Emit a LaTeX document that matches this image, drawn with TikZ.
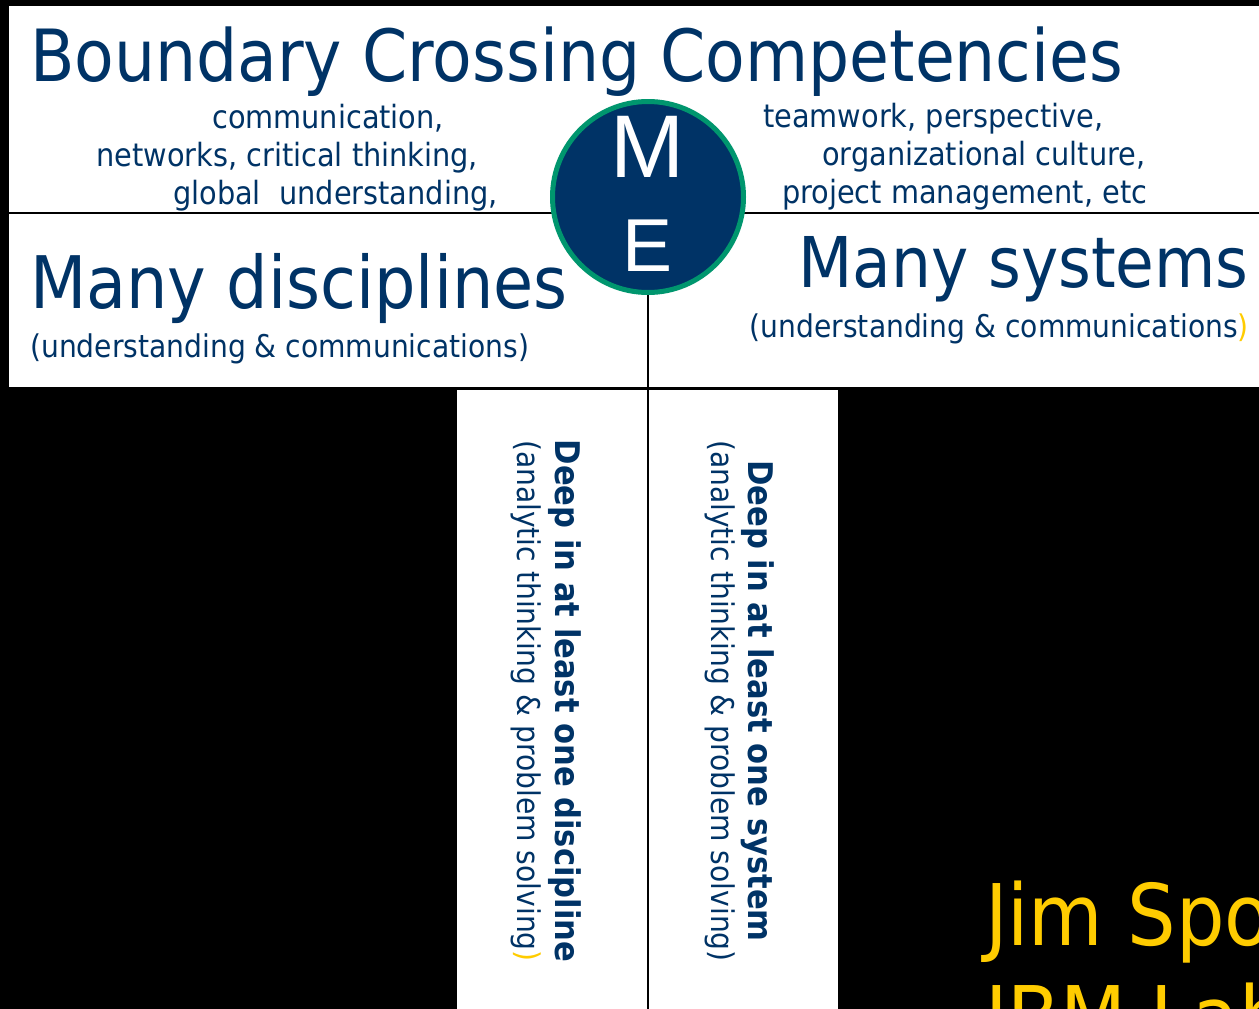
\documentclass[tikz,border=0pt]{standalone}
\usepackage{fontspec}
\setmainfont{DejaVu Sans Condensed}
\newfontfamily\arialfont{Liberation Sans}
\definecolor{navy}{RGB}{0,51,102}
\definecolor{megreen}{RGB}{0,150,110}
\definecolor{gold}{RGB}{255,204,0}
\begin{document}
\begin{tikzpicture}[x=1pt, y=-1pt,
    txt/.style = {text=navy, inner sep=0pt},
    big/.style = {txt, font=\fontsize{71}{71}\selectfont},
    small/.style = {txt, font=\fontsize{31.3}{31}\selectfont},
    list/.style = {txt, anchor=base west, font=\fontsize{32}{32}\selectfont},
    vbold/.style = {txt, font=\bfseries\fontsize{34}{34}\selectfont},
    rule/.style = {line width=2pt}]
    \fill[black] (0,0) rectangle (1259,1009);
    \useasboundingbox (0,0) rectangle (1259,1009);
    \clip (0,0) rectangle (1259,1009);
    \fill[white] (9,6) rectangle (1259,387);
    \fill[white] (457,390) rectangle (838,1009);
    \coordinate (lft) at (9,213);
    \coordinate (rgt) at (1259,213);
    \coordinate (bot) at (648,1009);
    \draw[rule] (lft) -- (rgt);
    \node[circle, fill=navy, draw=megreen, line width=5pt, minimum size=191pt] (me) at (648,197) {};
    \draw[rule] (me.south) -- (bot);
    \node[text=white, inner sep=0pt, font=\arialfont\fontsize{89}{89}\selectfont] (m) at (648,147) {M};
    \node[text=white, inner sep=0pt, font=\arialfont\fontsize{75}{75}\selectfont] (e) at (648,246) {E};
    \node[txt, anchor=base west, font=\fontsize{72}{72}\selectfont] (title) at (30,81) {Boundary Crossing Competencies};
    \node[list] (l1) at (212,128) {communication,};
    \node[list] (l2) at (96,166) {networks, critical thinking,};
    \node[list] (l3) at (173,204) {global\ \ understanding,};
    \node[list] (r1) at (763,127) {teamwork, perspective,};
    \node[list] (r2) at (822,165) {organizational culture,};
    \node[list] (r3) at (782,203) {project management, etc};
    \node[big, anchor=base west, font=\fontsize{72.5}{72}\selectfont] (disc) at (30,308) {Many disciplines};
    \node[small, anchor=base west] (discsub) at (30,357) {(understanding \& communications)};
    \node[big, anchor=base east, font=\fontsize{70}{70}\selectfont] (sys) at (1249,287) {Many systems};
    \node[small, anchor=base east] (syssub) at (1249,337) {(understanding \& communications\textcolor{gold}{)}};
    \node[vbold, rotate=-90, anchor=base] (deepd) at (555,701) {Deep in at least one discipline};
    \node[small, rotate=-90, anchor=base] (anad) at (517,701) {(analytic thinking \& problem solving\textcolor{gold}{)}};
    \node[vbold, rotate=-90, anchor=base] (deeps) at (748,701) {Deep in at least one system};
    \node[small, rotate=-90, anchor=base] (anas) at (711,701) {(analytic thinking \& problem solving)};
    \node[text=gold, inner sep=0pt, anchor=base west, font=\fontsize{85}{85}\selectfont] (name) at (985,945) {Jim Spohrer};
    \node[text=gold, inner sep=0pt, anchor=base west, font=\fontsize{85}{85}\selectfont] (lab) at (985,1047) {IBM Labs};
\end{tikzpicture}
\end{document}
